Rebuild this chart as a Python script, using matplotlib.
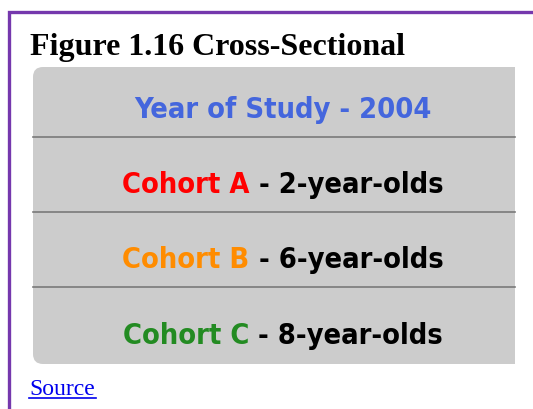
import matplotlib
matplotlib.use("Agg")
import matplotlib.pyplot as plt
from matplotlib.patches import FancyBboxPatch, Rectangle
from matplotlib import font_manager
from matplotlib.font_manager import FontProperties

# -----------------------------
# Content of the figure
# -----------------------------
title = "Figure 1.16 Cross-Sectional"
header = "Year of Study - 2004"
cohorts = ["Cohort A", "Cohort B", "Cohort C"]
ages = [" - 2-year-olds", " - 6-year-olds", " - 8-year-olds"]
cohort_colors = ["#ff0000", "#ff8c00", "#238b22"]
source_label = "Source"

# look for a condensed / narrow bold sans face, else plain DejaVu bold
cands = []
for f in font_manager.fontManager.ttflist:
    fn = f.fname
    if ("Condensed" in fn or "Narrow" in fn) and "Bold" in fn \
            and "Serif" not in fn and "Mono" not in fn and "Italic" not in fn \
            and "Oblique" not in fn and "Semi" not in fn and "Extra" not in fn:
        cands.append(fn)
cands.sort()
if cands:
    bold_font = FontProperties(fname=cands[0])
else:
    bold_font = FontProperties(family="DejaVu Sans", weight="bold")

fig = plt.figure(figsize=(5.33, 4.10), dpi=100)
ax = fig.add_axes([0, 0, 1, 1])
ax.set_xlim(0, 533)
ax.set_ylim(410, 0)
ax.axis("off")

# purple frame (left and top edges)
ax.plot([8.5, 8.5, 540], [420, 12.5, 12.5], color="#7538ad", lw=2.4,
        solid_joinstyle="miter")

ax.text(30, 55, title, fontsize=23, fontweight="bold",
        family="Liberation Serif", va="baseline")

# grey card, clipped on the right side
card = FancyBboxPatch((33, 68), 520, 297, boxstyle="round,pad=0,rounding_size=10",
                      fc="#cccccc", ec="none")
ax.add_patch(card)
clip = Rectangle((0, 0), 515, 410, transform=ax.transData)
card.set_clip_path(clip)

for y in [138, 213, 288]:
    ax.plot([33, 515], [y, y], color="#7a7a7a", lw=1.2)

# pick the font size so the cohort rows are about 320 px wide
fig.canvas.draw()
r = fig.canvas.get_renderer()
probe = ax.text(0, 0, cohorts[0] + ages[0], fontproperties=bold_font, fontsize=30)
pw = probe.get_window_extent(r).width
probe.remove()
fs = min(30, 30 * 322 / pw)

center = 283
ax.text(center, 118, header, fontproperties=bold_font, fontsize=fs,
        color="#4466dd", ha="center", va="baseline")

for name, age, col, base in zip(cohorts, ages, cohort_colors, [193, 268, 344]):
    t1 = ax.text(0, base, name, fontproperties=bold_font, fontsize=fs,
                 color=col, va="baseline")
    t2 = ax.text(0, base, age, fontproperties=bold_font, fontsize=fs,
                 color="black", va="baseline")
    w1 = t1.get_window_extent(r).width
    w2 = t2.get_window_extent(r).width
    x0 = center - (w1 + w2) / 2
    t1.set_x(x0)
    t2.set_x(x0 + w1)

ax.text(29, 395, source_label, fontsize=17, family="Liberation Serif",
        color="#0000ee", va="baseline")
ax.plot([29, 96], [399, 399], color="#0000ee", lw=1.2)

fig.savefig("out.png", dpi=100, facecolor="white")
